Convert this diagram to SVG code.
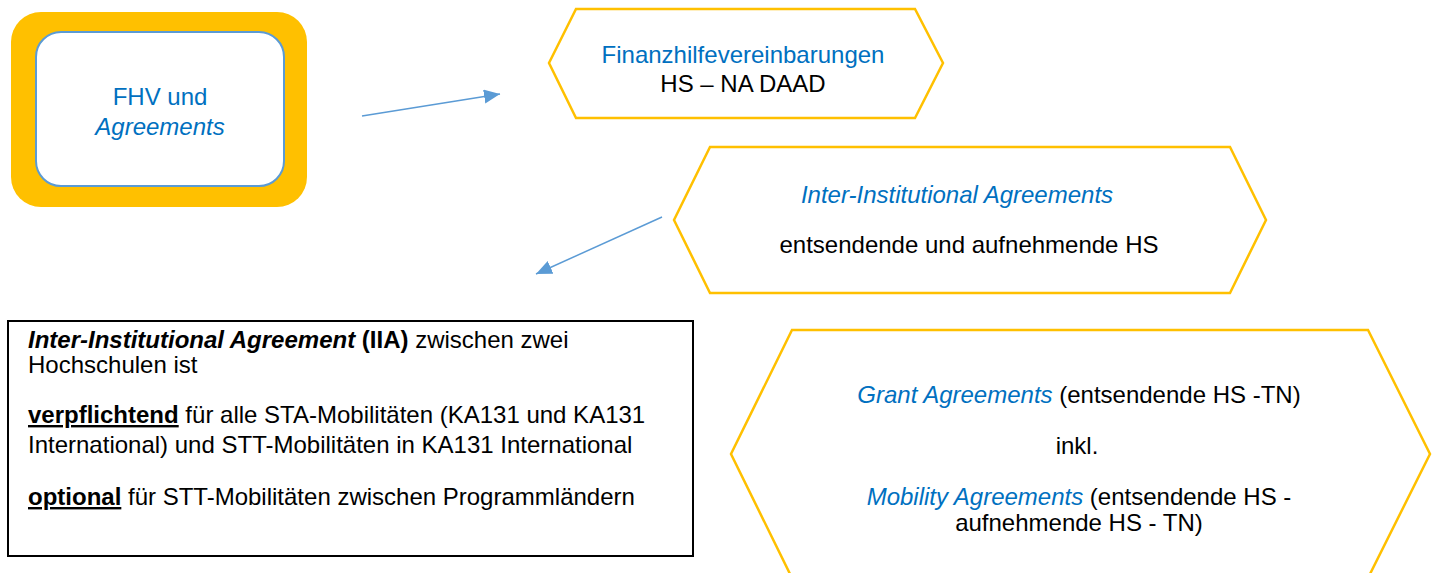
<svg xmlns="http://www.w3.org/2000/svg" width="1437" height="573" viewBox="0 0 1437 573">
<style>
text { font-family: "Liberation Sans", Arial, sans-serif; font-size: 24px; fill: #000; }
.blue { fill: #0070C0; }
.it { font-style: italic; }
.b { font-weight: bold; }
.u { text-decoration: underline; }
.hex { fill: #fff; stroke: #FFC000; stroke-width: 2.5; }
.conn { stroke: #5B9BD5; stroke-width: 1.5; fill: none; marker-end: url(#arr); }
.box { fill: #fff; stroke: #000; stroke-width: 2; }
.bt { font-size: 24px; }
</style>
<defs>
<marker id="arr" markerUnits="userSpaceOnUse" markerWidth="18" markerHeight="16" refX="16" refY="7" orient="auto">
<path d="M0,0 L16,7 L0,14 z" fill="#5B9BD5"/>
</marker>
</defs>
<rect width="1437" height="573" fill="#fff"/>
<g id="fhv">
<rect x="11" y="12" width="296" height="195" rx="30" fill="#FFC000"/>
<rect x="36" y="32" width="248" height="154" rx="25" fill="#fff" stroke="#5B9BD5" stroke-width="2"/>
<text x="160" y="105" text-anchor="middle" class="blue">FHV und</text>
<text x="160" y="135" text-anchor="middle" class="blue it">Agreements</text>
</g>
<g id="finanz">
<polygon class="hex" points="576,9 915,9 943,63 915,118 576,118 549,63"/>
<text x="743" y="63" text-anchor="middle" class="blue">Finanzhilfevereinbarungen</text>
<text x="743" y="92" text-anchor="middle">HS – NA DAAD</text>
</g>
<g id="iia-hex">
<polygon class="hex" points="710,147 1230,147 1266,220 1230,293 710,293 674,220"/>
<text x="957" y="203" text-anchor="middle" class="blue it">Inter-Institutional Agreements</text>
<text x="969" y="253" text-anchor="middle">entsendende und aufnehmende HS</text>
</g>
<g id="iia-box">
<rect class="box" x="8" y="321" width="685" height="235"/>
<text x="28" y="348" class="bt"><tspan class="b it">Inter-Institutional Agreement</tspan><tspan class="b"> (IIA)</tspan> zwischen zwei</text>
<text x="28" y="373" class="bt">Hochschulen ist</text>
<text x="28" y="423" class="bt"><tspan class="b u">verpflichtend</tspan> für alle STA-Mobilitäten (KA131 und KA131</text>
<text x="28" y="453" class="bt">International) und STT-Mobilitäten in KA131 International</text>
<text x="28" y="505" class="bt"><tspan class="b u">optional</tspan> für STT-Mobilitäten zwischen Programmländern</text>
</g>
<g id="grant">
<polygon class="hex" points="792,330 1368,330 1430,454 1368,578 792,578 731,454"/>
<text x="1079" y="403" text-anchor="middle"><tspan class="blue it">Grant Agreements</tspan> (entsendende HS -TN)</text>
<text x="1077" y="454" text-anchor="middle">inkl.</text>
<text x="1079" y="505" text-anchor="middle"><tspan class="blue it">Mobility Agreements</tspan> (entsendende HS -</text>
<text x="1079" y="531" text-anchor="middle">aufnehmende HS - TN)</text>
</g>
<g id="connectors">
<line class="conn" x1="362" y1="116" x2="500" y2="94"/>
<line class="conn" x1="662" y1="217" x2="536" y2="274"/>
</g>
</svg>
